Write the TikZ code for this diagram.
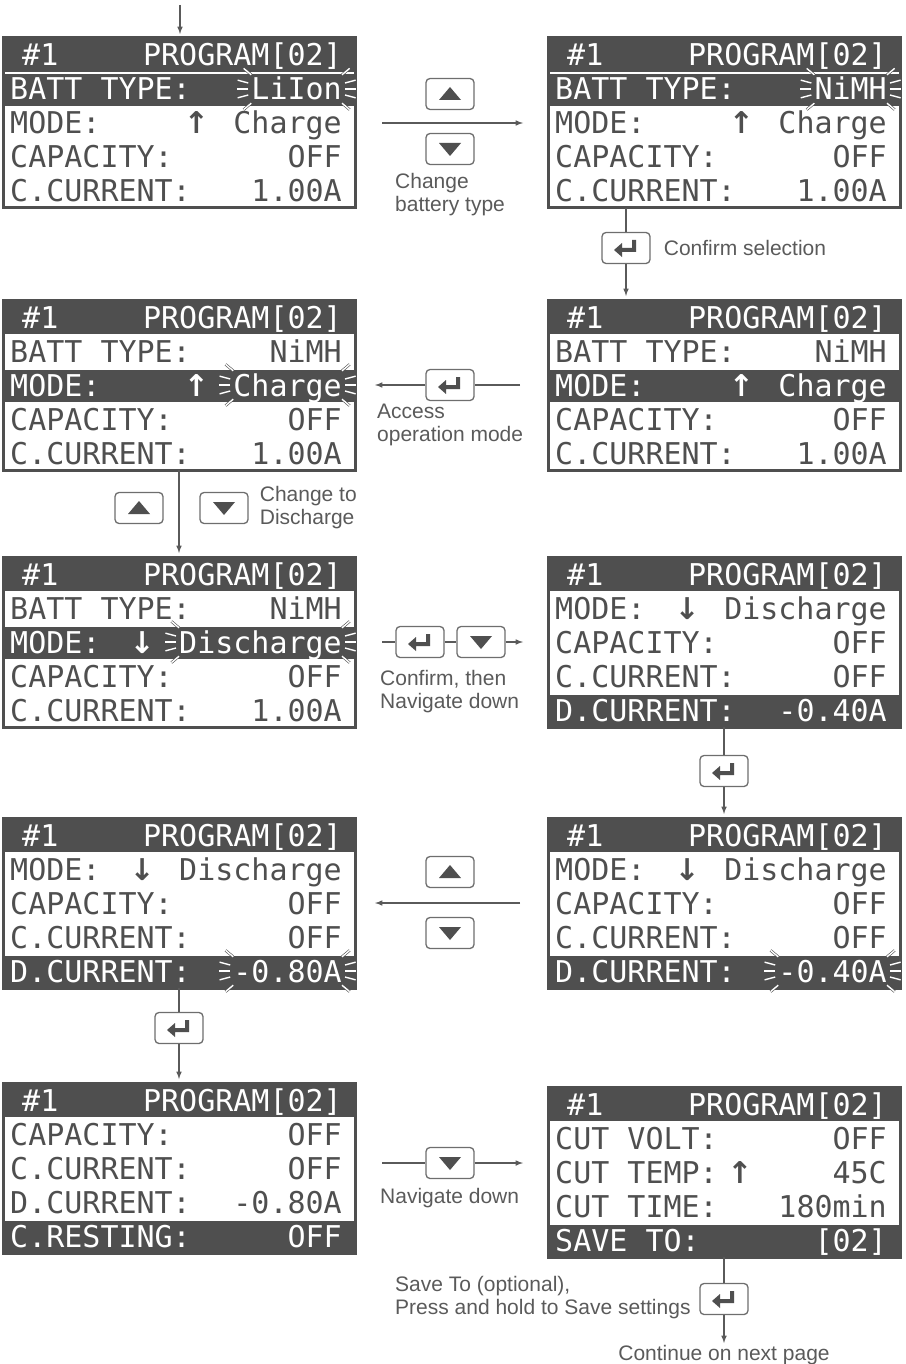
\documentclass[tikz,border=0pt]{standalone}
\usepackage{fontspec}
\setmainfont{Liberation Sans}
\newfontfamily\lcdfont{DejaVu Sans Mono}
\newfontfamily\arrowfont{DejaVu Sans}
\newcommand{\arw}[1]{{\arrowfont\bfseries #1}}
\usetikzlibrary{positioning}

\definecolor{lcdgray}{HTML}{4F4F4F}
\definecolor{inkgray}{HTML}{5A5A5A}
\definecolor{keyedge}{HTML}{6E6E6E}

\tikzset{
  screen/.style={draw=lcdgray, line width=3pt, fill=white,
    minimum width=352pt, minimum height=170pt,
    anchor=north west, outer sep=0pt, inner sep=0pt},
  lcdtext/.style={font=\lcdfont\fontsize{30}{30}\selectfont,
    inner sep=0pt, text height=22pt, text depth=0pt},
  lcdtext n/.style={lcdtext, text=lcdgray},
  lcdtext h/.style={lcdtext, text=white},
  lcdtext s/.style={lcdtext, text=white},
  rowfill n/.style={},
  rowfill h/.style={fill=lcdgray},
  rowfill s/.style={fill=lcdgray},
  spark/.style={draw=lcdgray, double=white, double distance=1.4pt, line width=0.6pt},
  keybox/.style={draw=keyedge, line width=1.3pt, rounded corners=4pt, fill=white,
    minimum width=48pt, minimum height=31pt, inner sep=0pt},
  upkey/.style={keybox, path picture={
    \fill[lcdgray, sharp corners] ([shift={(-11,6)}]path picture bounding box.center)
      -- ++(22,0) -- ++(-11,-13) -- cycle;}},
  downkey/.style={keybox, path picture={
    \fill[lcdgray, sharp corners] ([shift={(-11,-6)}]path picture bounding box.center)
      -- ++(22,0) -- ++(-11,13) -- cycle;}},
  enterkey/.style={keybox, path picture={
    \fill[lcdgray, sharp corners] ([shift={(-12,2)}]path picture bounding box.center)
      -- ++(8,-7) -- ++(0,5) -- ++(10,0) -- ++(0,-8) -- ++(4,0)
      -- ++(0,12) -- ++(-14,0) -- ++(0,5) -- cycle;}},
  link/.style={draw=inkgray, line width=1.5pt},
  flow/.style={link, -latex},
  note/.style={font=\fontsize{21}{23}\selectfont, text=inkgray, align=left, inner sep=0pt}
}

% blinking marks round a value
\newcommand{\sparkle}[1]{%
  \foreach \al/\ar/\dy in {165/15/6, 180/0/0, 195/-15/-6}{
    \draw[spark] ([xshift=-3pt,yshift=\dy pt]#1.west) -- ++(\al:11pt);
    \draw[spark] ([xshift=3pt,yshift=\dy pt]#1.east) -- ++(\ar:11pt);
  }
  \draw[spark] ([yshift=3pt]#1.north west) -- ++(140:10pt);
  \draw[spark] ([yshift=3pt]#1.north east) -- ++(40:10pt);
  \draw[spark] ([yshift=-3pt]#1.south west) -- ++(220:10pt);
  \draw[spark] ([yshift=-3pt]#1.south east) -- ++(320:10pt);
}

% name, top left corner, rows label/prefix/value/style
\newcommand{\lcd}[3]{%
  \node[screen] (#1) at #2 {};
  \begin{scope}[shift={#2}]
    \fill[lcdgray] (0,0) rectangle (352,34);
    \node[lcdtext h, anchor=west] at (19,17) {\#1};
    \node[lcdtext h, anchor=east] at (339,17) {PROGRAM[02]};
    \foreach \lab/\pre/\val/\sty [count=\i] in {#3} {
      \path[rowfill \sty] (0,{34*\i+2}) rectangle (352,{34*\i+34});
      \node[lcdtext \sty, anchor=west] at (7,{34*\i+17}) {\lab};
      \node[lcdtext \sty, anchor=east] (#1v\i) at (339,{34*\i+17}) {\val};
      \node[lcdtext \sty, anchor=east] at ([xshift=-24pt]#1v\i.west) {\pre};
      \if s\sty \sparkle{#1v\i}\fi
    }
  \end{scope}
}

\begin{document}
\begin{tikzpicture}[x=1pt, y=-1pt]
\useasboundingbox (0,0) rectangle (905,1364);

% screens
\lcd{s1}{(3,38)}{BATT TYPE:/{}/LiIon/s, MODE:/\arw{↑}/Charge/n,
  CAPACITY:/{}/OFF/n, C.CURRENT:/{}/1.00A/n}
\lcd{s2}{(548,38)}{BATT TYPE:/{}/NiMH/s, MODE:/\arw{↑}/Charge/n,
  CAPACITY:/{}/OFF/n, C.CURRENT:/{}/1.00A/n}
\lcd{s3}{(548,300)}{BATT TYPE:/{}/NiMH/n, MODE:/\arw{↑}/Charge/h,
  CAPACITY:/{}/OFF/n, C.CURRENT:/{}/1.00A/n}
\lcd{s4}{(3,300)}{BATT TYPE:/{}/NiMH/n, MODE:/\arw{↑}/Charge/s,
  CAPACITY:/{}/OFF/n, C.CURRENT:/{}/1.00A/n}
\lcd{s5}{(3,557)}{BATT TYPE:/{}/NiMH/n, MODE:/\arw{↓}/Discharge/s,
  CAPACITY:/{}/OFF/n, C.CURRENT:/{}/1.00A/n}
\lcd{s6}{(548,557)}{MODE:/\arw{↓}/Discharge/n, CAPACITY:/{}/OFF/n,
  C.CURRENT:/{}/OFF/n, D.CURRENT:/{}/-0.40A/h}
\lcd{s7}{(548,818)}{MODE:/\arw{↓}/Discharge/n, CAPACITY:/{}/OFF/n,
  C.CURRENT:/{}/OFF/n, D.CURRENT:/{}/-0.40A/s}
\lcd{s8}{(3,818)}{MODE:/\arw{↓}/Discharge/n, CAPACITY:/{}/OFF/n,
  C.CURRENT:/{}/OFF/n, D.CURRENT:/{}/-0.80A/s}
\lcd{s9}{(3,1083)}{CAPACITY:/{}/OFF/n, C.CURRENT:/{}/OFF/n,
  D.CURRENT:/{}/-0.80A/n, C.RESTING:/{}/OFF/h}
\lcd{s10}{(548,1087)}{CUT VOLT:/{}/OFF/n, CUT TEMP:/{}/\arw{↑}\hspace{80pt}45C/n,
  CUT TIME:/{}/180min/n, SAVE TO:/{}/[02]/h}

% keys
\node[upkey] (up12) at (450,94) {};
\node[downkey] (dn12) at (450,149) {};
\node[enterkey] (ent23) at (626,248) {};
\node[enterkey] (ent34) at (450,385) {};
\node[upkey] (up45) at (139,508) {};
\node[downkey] (dn45) at (224,508) {};
\node[enterkey] (ent56) at (420,642) {};
\node[downkey] (dn56) at (481,642) {};
\node[enterkey] (ent67) at (724,771) {};
\node[upkey] (up78) at (450,872) {};
\node[downkey] (dn78) at (450,933) {};
\node[enterkey] (ent89) at (179,1028) {};
\node[downkey] (dn910) at (450,1163) {};
\node[enterkey] (ent10) at (724,1299) {};

% texts
\node[note, anchor=west] (n12) at (395,195) {Change\\battery type};
\node[note, right=13pt of ent23] (n23) {Confirm selection};
\node[note, anchor=west] (n34) at (377,425) {Access\\operation mode};
\node[note, right=11pt of dn45] (n45) {Change to\\Discharge};
\node[note, anchor=west] (n56) at (380,692) {Confirm, then\\Navigate down};
\node[note, anchor=west] (n910) at (380,1198) {Navigate down};
\node[note, anchor=west] (n10) at (395,1298) {Save To (optional),\\Press and hold to Save settings};
\node[note] (cont) at (724,1355) {Continue on next page};

% arrows
\coordinate (top) at (180,5);
\draw[flow, shorten >=4pt] (top) -- (top |- s1.north);
\draw[flow, shorten <=27pt, shorten >=25pt] (s1.east) -- (s2.west);
\draw[link] (s2.south -| ent23) -- (ent23.north);
\draw[flow, shorten >=4pt] (ent23.south) -- (ent23 |- s3.north);
\draw[link, shorten <=28pt] (s3.west) -- (ent34.east);
\draw[flow, shorten >=20pt] (ent34.west) -- (s4.east);
\draw[flow, shorten >=4pt] (s4.south) -- (s5.north);
\draw[link, shorten <=27pt] (s5.east) -- (ent56.west);
\draw[link] (ent56.east) -- (dn56.west);
\draw[flow, shorten >=25pt] (dn56.east) -- (s6.west);
\draw[link] (s6.south) -- (ent67.north);
\draw[flow, shorten >=4pt] (ent67.south) -- (s7.north);
\draw[flow, shorten <=28pt, shorten >=20pt] (s7.west) -- (s8.east);
\draw[link] (s8.south) -- (ent89.north);
\draw[flow, shorten >=4pt] (ent89.south) -- (s9.north);
\draw[link, shorten <=27pt] (dn910.west -| s9.east) -- (dn910.west);
\draw[flow, shorten >=25pt] (dn910.east) -- (dn910.east -| s10.west);
\draw[link] (s10.south) -- (ent10.north);
\draw[flow, shorten >=2pt] (ent10.south) -- (cont.north);

\end{tikzpicture}
\end{document}
